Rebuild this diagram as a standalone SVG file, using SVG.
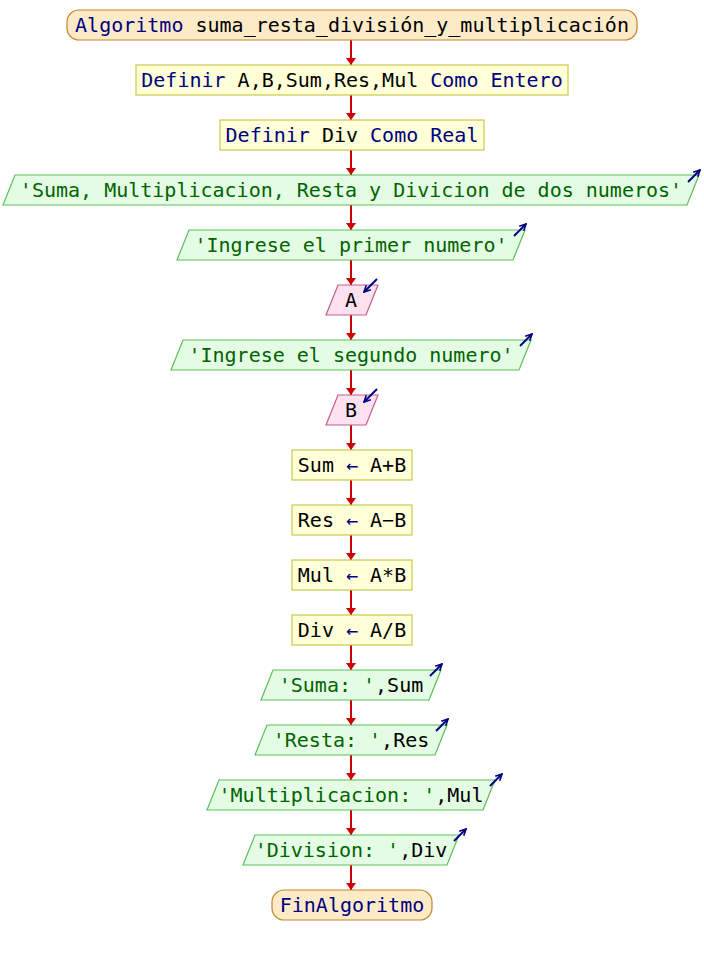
<svg xmlns="http://www.w3.org/2000/svg" width="704" height="955" viewBox="0 0 704 955">
  <style>
    text { font-family: "DejaVu Sans Mono", "Liberation Mono", monospace; font-size: 20px; text-anchor: middle; }
    .kw { fill: #000080; }
    .var { fill: #000000; }
    .str { fill: #006400; }
    .op { fill: #000080; }
    .term { fill: #fdebc8; stroke: #c0882e; stroke-width: 1.2; }
    .proc { fill: #ffffd8; stroke: #c8c84a; stroke-width: 1.2; }
    .out { fill: #e4fce4; stroke: #5abf5a; stroke-width: 1.2; }
    .in { fill: #fde1ee; stroke: #c0608c; stroke-width: 1.2; }
    .flow { stroke: #cc0000; stroke-width: 2; fill: none; marker-end: url(#head); }
    .io { stroke: #000080; stroke-width: 2; fill: none; }
  </style>
  <defs>
    <marker id="head" viewBox="0 0 7 10" refX="7" refY="5" markerWidth="7" markerHeight="10" markerUnits="userSpaceOnUse" orient="auto">
      <path d="M0,0 L7,5 L0,10 z" fill="#cc0000"/>
    </marker>
    <marker id="ioHead" viewBox="0 0 10 10" refX="9" refY="5" markerWidth="8" markerHeight="8" markerUnits="userSpaceOnUse" orient="auto">
      <path d="M1,1 L9,5 L1,9" fill="none" stroke="#000080" stroke-width="2"/>
    </marker>
  </defs>
  <rect width="704" height="955" fill="#ffffff"/>

  <!-- connectors -->
  <g id="connectors">
    <path class="flow" d="M351 40V65"/>
    <path class="flow" d="M351 95V120"/>
    <path class="flow" d="M351 150V175"/>
    <path class="flow" d="M351 205V230"/>
    <path class="flow" d="M351 260V285"/>
    <path class="flow" d="M351 315V340"/>
    <path class="flow" d="M351 370V395"/>
    <path class="flow" d="M351 425V450"/>
    <path class="flow" d="M351 480V505"/>
    <path class="flow" d="M351 535V560"/>
    <path class="flow" d="M351 590V615"/>
    <path class="flow" d="M351 645V670"/>
    <path class="flow" d="M351 700V725"/>
    <path class="flow" d="M351 755V780"/>
    <path class="flow" d="M351 810V835"/>
    <path class="flow" d="M351 865V890"/>
  </g>

  <g id="start">
    <rect class="term" x="67" y="10" width="570" height="30" rx="12"/>
    <text x="352" y="32"><tspan class="kw">Algoritmo</tspan><tspan class="var"> suma_resta_división_y_multiplicación</tspan></text>
  </g>

  <g id="def1">
    <rect class="proc" x="136" y="65" width="432" height="30"/>
    <text x="352" y="87"><tspan class="kw">Definir</tspan><tspan class="var"> A,B,Sum,Res,Mul </tspan><tspan class="kw">Como Entero</tspan></text>
  </g>

  <g id="def2">
    <rect class="proc" x="220" y="120" width="264" height="30"/>
    <text x="352" y="142"><tspan class="kw">Definir</tspan><tspan class="var"> Div </tspan><tspan class="kw">Como Real</tspan></text>
  </g>

  <g id="out_title">
    <polygon class="out" points="15,175 699,175 687,205 3,205"/>
    <text x="351" y="197" class="str">'Suma, Multiplicacion, Resta y Divicion de dos numeros'</text>
    <path class="io" d="M688 182L700 170" marker-end="url(#ioHead)"/>
  </g>

  <g id="out_first">
    <polygon class="out" points="189,230 525,230 513,260 177,260"/>
    <text x="351" y="252" class="str">'Ingrese el primer numero'</text>
    <path class="io" d="M514 236L526 224" marker-end="url(#ioHead)"/>
  </g>

  <g id="read_a">
    <polygon class="in" points="338,285 378,285 366,315 326,315"/>
    <text x="351" y="307" class="var">A</text>
    <path class="io" d="M377 279L364 292" marker-end="url(#ioHead)"/>
  </g>

  <g id="out_second">
    <polygon class="out" points="183,340 531,340 519,370 171,370"/>
    <text x="351" y="362" class="str">'Ingrese el segundo numero'</text>
    <path class="io" d="M520 346L532 334" marker-end="url(#ioHead)"/>
  </g>

  <g id="read_b">
    <polygon class="in" points="338,395 378,395 366,425 326,425"/>
    <text x="351" y="417" class="var">B</text>
    <path class="io" d="M377 389L364 402" marker-end="url(#ioHead)"/>
  </g>

  <g id="assign_sum">
    <rect class="proc" x="292" y="450" width="120" height="30"/>
    <text x="352" y="472"><tspan class="var">Sum </tspan><tspan class="op">←</tspan><tspan class="var"> A+B</tspan></text>
  </g>

  <g id="assign_res">
    <rect class="proc" x="292" y="505" width="120" height="30"/>
    <text x="352" y="527"><tspan class="var">Res </tspan><tspan class="op">←</tspan><tspan class="var"> A−B</tspan></text>
  </g>

  <g id="assign_mul">
    <rect class="proc" x="292" y="560" width="120" height="30"/>
    <text x="352" y="582"><tspan class="var">Mul </tspan><tspan class="op">←</tspan><tspan class="var"> A*B</tspan></text>
  </g>

  <g id="assign_div">
    <rect class="proc" x="292" y="615" width="120" height="30"/>
    <text x="352" y="637"><tspan class="var">Div </tspan><tspan class="op">←</tspan><tspan class="var"> A/B</tspan></text>
  </g>

  <g id="out_sum">
    <polygon class="out" points="273,670 441,670 429,700 261,700"/>
    <text x="351" y="692"><tspan class="str">'Suma: '</tspan><tspan class="var">,Sum</tspan></text>
    <path class="io" d="M430 676L442 664" marker-end="url(#ioHead)"/>
  </g>

  <g id="out_res">
    <polygon class="out" points="267,725 447,725 435,755 255,755"/>
    <text x="351" y="747"><tspan class="str">'Resta: '</tspan><tspan class="var">,Res</tspan></text>
    <path class="io" d="M436 731L448 719" marker-end="url(#ioHead)"/>
  </g>

  <g id="out_mul">
    <polygon class="out" points="219,780 495,780 483,810 207,810"/>
    <text x="351" y="802"><tspan class="str">'Multiplicacion: '</tspan><tspan class="var">,Mul</tspan></text>
    <path class="io" d="M490 786L502 774" marker-end="url(#ioHead)"/>
  </g>

  <g id="out_div">
    <polygon class="out" points="255,835 459,835 447,865 243,865"/>
    <text x="351" y="857"><tspan class="str">'Division: '</tspan><tspan class="var">,Div</tspan></text>
    <path class="io" d="M454 841L466 829" marker-end="url(#ioHead)"/>
  </g>

  <g id="end">
    <rect class="term" x="272" y="890" width="160" height="30" rx="12"/>
    <text x="352" y="912" class="kw">FinAlgoritmo</text>
  </g>
</svg>
